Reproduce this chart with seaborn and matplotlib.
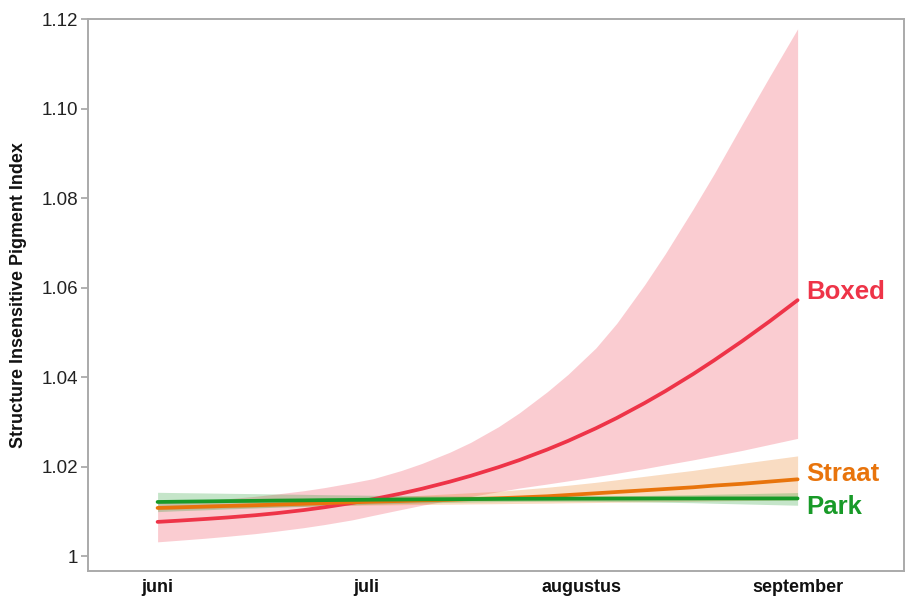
import pandas as pd
import matplotlib
matplotlib.use("Agg")
import matplotlib.pyplot as plt
import matplotlib.ticker as mticker
import seaborn as sns

# sample dates, about every half week
dates = pd.to_datetime([
    "2021-06-01", "2021-06-04", "2021-06-08", "2021-06-11", "2021-06-15",
    "2021-06-18", "2021-06-22", "2021-06-25", "2021-06-29", "2021-07-02",
    "2021-07-06", "2021-07-09", "2021-07-13", "2021-07-16", "2021-07-20",
    "2021-07-23", "2021-07-27", "2021-07-30", "2021-08-03", "2021-08-06",
    "2021-08-10", "2021-08-13", "2021-08-17", "2021-08-20", "2021-08-24",
    "2021-08-28", "2021-09-01",
])

boxed_mid = [1.00764, 1.00791, 1.00830, 1.00862, 1.00912, 1.00957, 1.01028,
             1.01091, 1.01188, 1.01272, 1.01398, 1.01504, 1.01662, 1.01793,
             1.01986, 1.02145, 1.02380, 1.02573, 1.02855, 1.03085, 1.03419,
             1.03687, 1.04069, 1.04374, 1.04800, 1.05248, 1.05718]
boxed_hi = [1.01190, 1.01210, 1.01245, 1.01280, 1.01335, 1.01385, 1.01460,
            1.01530, 1.01640, 1.01730, 1.01910, 1.02070, 1.02320, 1.02540,
            1.02890, 1.03200, 1.03670, 1.04060, 1.04650, 1.05200, 1.06060,
            1.06760, 1.07760, 1.08540, 1.09640, 1.10720, 1.11780]
boxed_lo = [1.00318, 1.00353, 1.00401, 1.00442, 1.00501, 1.00555, 1.00635,
            1.00705, 1.00810, 1.00910, 1.01040, 1.01135, 1.01250, 1.01330,
            1.01440, 1.01520, 1.01610, 1.01680, 1.01775, 1.01850, 1.01955,
            1.02040, 1.02150, 1.02240, 1.02360, 1.02495, 1.02630]

straat_mid = [1.01076, 1.01089, 1.01107, 1.01120, 1.01136, 1.01150, 1.01169,
              1.01184, 1.01203, 1.01216, 1.01232, 1.01246, 1.01258, 1.01272,
              1.01292, 1.01310, 1.01336, 1.01365, 1.01403, 1.01432, 1.01470,
              1.01499, 1.01537, 1.01575, 1.01615, 1.01665, 1.01715]
straat_hi = [1.01125, 1.01139, 1.01158, 1.01172, 1.01191, 1.01210, 1.01236,
             1.01255, 1.01281, 1.01305, 1.01336, 1.01360, 1.01392, 1.01416,
             1.01448, 1.01485, 1.01537, 1.01583, 1.01648, 1.01705, 1.01782,
             1.01840, 1.01915, 1.01982, 1.02071, 1.02155, 1.02238]
straat_lo = [1.01034, 1.01048, 1.01064, 1.01076, 1.01089, 1.01100, 1.01112,
             1.01122, 1.01132, 1.01140, 1.01147, 1.01153, 1.01159, 1.01165,
             1.01171, 1.01177, 1.01183, 1.01190, 1.01197, 1.01204, 1.01211,
             1.01218, 1.01225, 1.01232, 1.01240, 1.01248, 1.01256]

park_mid = [1.01209, 1.01215, 1.01222, 1.01228, 1.01234, 1.01240, 1.01245,
            1.01250, 1.01255, 1.01260, 1.01264, 1.01268, 1.01271, 1.01274,
            1.01277, 1.01279, 1.01281, 1.01283, 1.01284, 1.01285, 1.01286,
            1.01287, 1.01287, 1.01288, 1.01288, 1.01288, 1.01288]
park_hi = [1.01425, 1.01418, 1.01410, 1.01403, 1.01395, 1.01388, 1.01380,
           1.01372, 1.01365, 1.01358, 1.01352, 1.01347, 1.01343, 1.01340,
           1.01338, 1.01337, 1.01338, 1.01340, 1.01343, 1.01348, 1.01355,
           1.01363, 1.01372, 1.01382, 1.01393, 1.01406, 1.01419]
park_lo = [1.00993, 1.01013, 1.01034, 1.01054, 1.01073, 1.01092, 1.01110,
           1.01128, 1.01145, 1.01161, 1.01176, 1.01188, 1.01199, 1.01208,
           1.01216, 1.01221, 1.01224, 1.01224, 1.01223, 1.01218, 1.01211,
           1.01202, 1.01192, 1.01180, 1.01166, 1.01151, 1.01136]

month_ticks = pd.to_datetime(["2021-06-01", "2021-07-01", "2021-08-01", "2021-09-01"])
month_labels = ["juni", "juli", "augustus", "september"]

series = [
    ("Boxed", boxed_mid, boxed_lo, boxed_hi, "#ee3448", 6.0),
    ("Straat", straat_mid, straat_lo, straat_hi, "#e8740c", 4.0),
    ("Park", park_mid, park_lo, park_hi, "#189a28", -6.0),
]

sns.set_theme(style="white")
plt.rcParams["font.family"] = ["Liberation Sans", "DejaVu Sans"]

fig = plt.figure(figsize=(9.14, 5.96), dpi=100)
ax = fig.add_axes([0.0963, 0.0419, 0.8928, 0.9262])

for name, mid, lo, hi, color, dy in series:
    ax.fill_between(dates, lo, hi, color=color, alpha=0.25, linewidth=0)
    sns.lineplot(x=dates, y=mid, color=color, linewidth=2.7, ax=ax)
    ax.annotate(
        name,
        xy=(dates[-1], mid[-1]),
        xytext=(6.5, dy),
        textcoords="offset points",
        ha="left",
        va="center",
        fontsize=18.5,
        fontweight="bold",
        color=color,
    )

# axes styling
ax.set_xlim(pd.Timestamp("2021-06-01") - pd.Timedelta(days=10),
            pd.Timestamp("2021-06-01") + pd.Timedelta(days=107.3))
ax.set_ylim(0.99666, 1.12)
ax.set_xticks(month_ticks)
ax.set_xticklabels(month_labels, fontsize=13, fontweight="bold")
ax.yaxis.set_major_locator(mticker.MultipleLocator(0.02))
ax.yaxis.set_major_formatter(
    mticker.FuncFormatter(lambda v, p: "1" if abs(v - 1) < 1e-9 else f"{v:.2f}")
)
ax.tick_params(axis="y", length=5, width=1.3, color="#aaaaaa",
               labelsize=13.5, pad=2, labelcolor="#222222", left=True)
ax.tick_params(axis="x", length=0, pad=6, labelcolor="#111111")

for side in ["top", "right", "left", "bottom"]:
    ax.spines[side].set_visible(True)
    ax.spines[side].set_color("#aaaaaa")
    ax.spines[side].set_linewidth(1.4)

ax.set_xlabel("")
ax.set_ylabel("Structure Insensitive Pigment Index", fontsize=12.9,
              fontweight="bold", color="#111111")
ax.yaxis.set_label_coords(-0.075, 0.5)
ax.grid(False)

fig.savefig("out.png", dpi=100)
